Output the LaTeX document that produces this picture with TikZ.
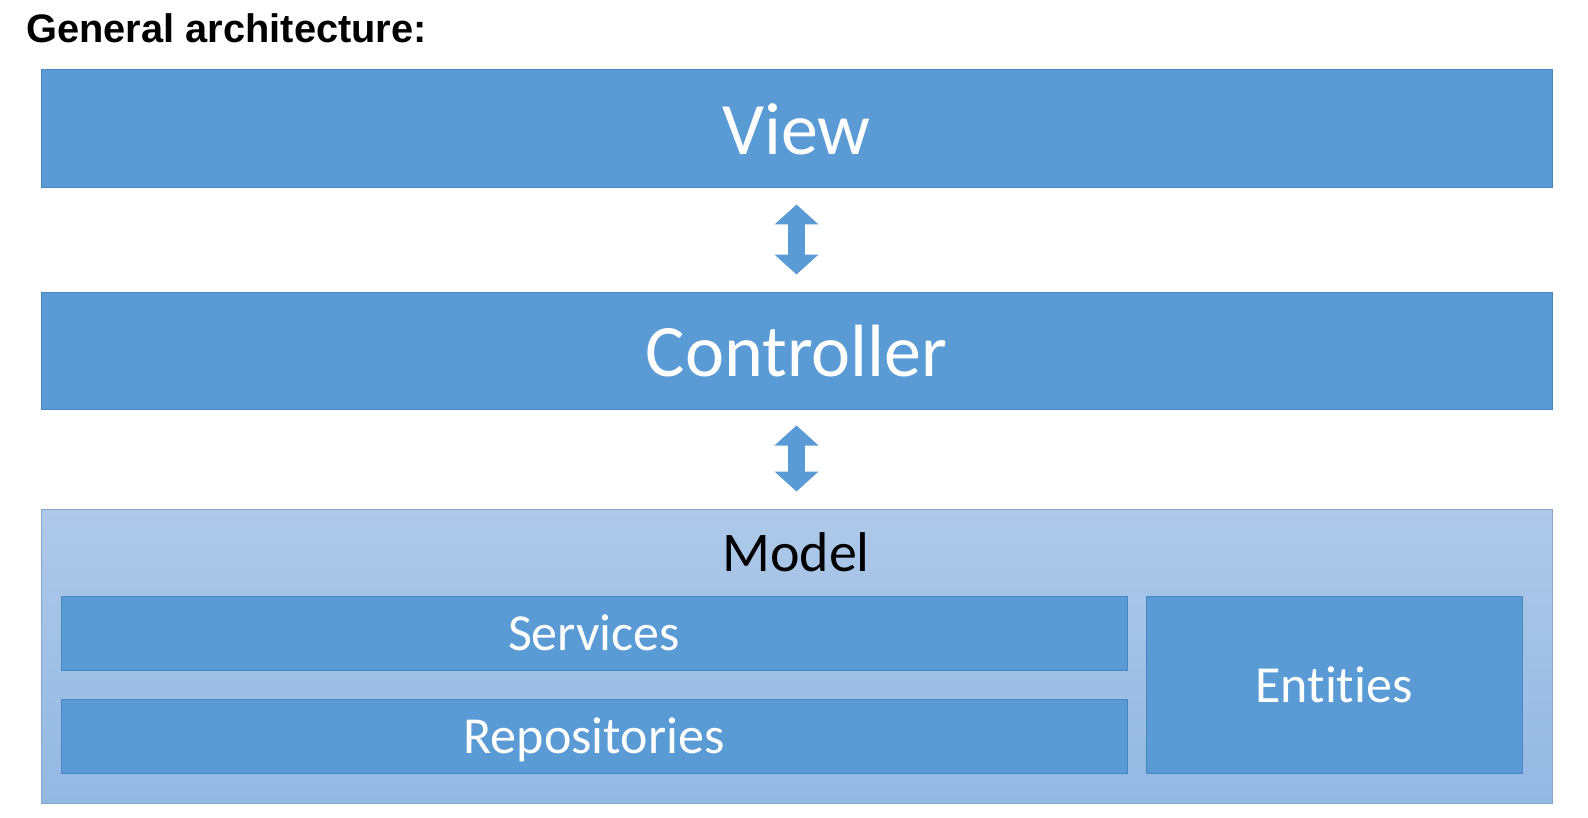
\documentclass[tikz,border=0pt]{standalone}
\usepackage{fontspec}
\setmainfont{Carlito}[Ligatures=NoCommon]
\newfontfamily\titlefont{Liberation Sans}
\usepackage{xcolor}
\usetikzlibrary{arrows.meta,positioning}
\definecolor{layerblue}{HTML}{5B9BD5}
\definecolor{layeredge}{HTML}{4A86BF}
\definecolor{modeltop}{HTML}{AEC9E9}
\definecolor{modelbot}{HTML}{93B8E2}

\begin{document}
\begin{tikzpicture}[
    x=0.5pt,y=-0.5pt,
    layer/.style={rectangle,draw=layeredge,line width=0.5pt,fill=layerblue,text=white,inner sep=0pt,text depth=0pt},
    biglayer/.style={layer,minimum width=755.5pt,font=\fontsize{37}{40}\selectfont},
    part/.style={layer,font=\fontsize{26}{30}\selectfont},
    updown/.style={draw=layeredge,line width=8.5pt,color=layerblue,
        {Triangle[width=21.5pt,length=10pt]}-{Triangle[width=21.5pt,length=10pt]},
        shorten <=8pt,shorten >=8.5pt}
]
    \useasboundingbox (0,0) rectangle (1588,818);
    % Title
    \node[anchor=base west,inner sep=0pt,font=\titlefont\bfseries\fontsize{19.9}{22}\selectfont] (title) at (26,43) {General architecture:};

    % Layers
    \node[biglayer,minimum height=59pt] (view) at (796.5,129) {View};
    \node[biglayer,minimum height=58.5pt] (ctrl) at (796.5,350.5) {Controller};
    \node[rectangle,draw=modelbot!90!black,line width=0.5pt,top color=modeltop,bottom color=modelbot,
          minimum width=755.5pt,minimum height=147pt] (model) at (796.5,656) {};
    \node[font=\fontsize{28}{32}\selectfont] (modeltxt) at (796,552) {Model};

    % Parts of the model
    \node[part,minimum width=533pt,minimum height=37pt] (serv) at (594,633) {Services};
    \node[part,minimum width=533pt,minimum height=37pt] (repo) at (594,736) {Repositories};
    \node[part,minimum width=188pt,minimum height=88.5pt] (ent) at (1334,684.5) {Entities};

    % Arrows
    \draw[updown] (view.south) -- (ctrl.north);
    \draw[updown] (ctrl.south) -- (model.north);
\end{tikzpicture}
\end{document}
